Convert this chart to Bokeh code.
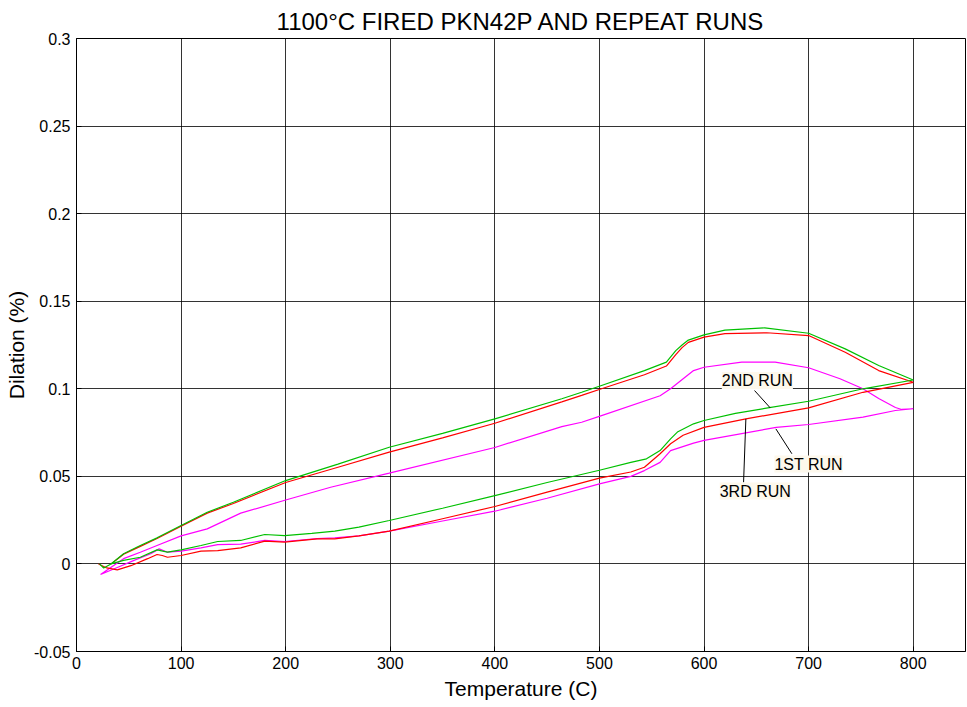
from bokeh.plotting import figure
from bokeh.models import FixedTicker, Label, Range1d, CustomJSTickFormatter
from bokeh.embed import file_html
from bokeh.resources import INLINE

TITLE = "1100°C FIRED PKN42P AND REPEAT RUNS"
X_LABEL = "Temperature (C)"
Y_LABEL = "Dilation (%)"
x_ticks = [0, 100, 200, 300, 400, 500, 600, 700, 800]
y_ticks = [-0.05, 0, 0.05, 0.1, 0.15, 0.2, 0.25, 0.3]

# 1ST RUN (magenta): heating branch then cooling branch
run1_heat_T = [23, 39, 55, 71, 79, 87, 100, 119, 135, 157, 180, 199, 230, 247, 270, 299, 350, 400, 450, 500, 530, 543, 558, 568, 590, 600, 669, 700, 752, 783, 800]
run1_heat_v = [-0.006, -0.002, 0.002, 0.0058, 0.0086, 0.0067, 0.0073, 0.0092, 0.011, 0.0113, 0.0134, 0.0128, 0.0145, 0.0149, 0.016, 0.0187, 0.0245, 0.0301, 0.0375, 0.0457, 0.050, 0.0533, 0.058, 0.0647, 0.069, 0.0705, 0.078, 0.0796, 0.0838, 0.0876, 0.0886]
run1_cool_T = [800, 789, 783, 767, 752, 730, 700, 668, 636, 600, 590, 568, 558, 502, 483, 464, 400, 299, 243, 200, 157, 125, 100, 77, 61, 45, 23]
run1_cool_v = [0.0886, 0.0882, 0.0893, 0.0944, 0.100, 0.1057, 0.112, 0.1152, 0.1152, 0.1123, 0.1104, 0.100, 0.096, 0.0847, 0.0809, 0.0784, 0.0665, 0.0518, 0.0438, 0.0365, 0.029, 0.020, 0.016, 0.0105, 0.0067, 0.003, -0.006]

# 2ND RUN (green)
run2_heat_T = [22, 26, 33, 45, 61, 77, 87, 100, 119, 135, 157, 180, 199, 225, 247, 270, 299, 350, 400, 450, 500, 530, 545, 558, 568, 575, 590, 600, 630, 661, 700, 752, 800]
run2_heat_v = [0.000, -0.0023, 0.000, 0.002, 0.0038, 0.008, 0.0067, 0.008, 0.0105, 0.0128, 0.0134, 0.0168, 0.0162, 0.0175, 0.0187, 0.0210, 0.0248, 0.0318, 0.039, 0.0465, 0.0535, 0.058, 0.060, 0.0647, 0.0714, 0.0755, 0.080, 0.0819, 0.0860, 0.0891, 0.0929, 0.100, 0.105]
run2_cool_T = [800, 767, 735, 700, 658, 620, 600, 585, 579, 573, 564, 543, 502, 483, 464, 400, 350, 299, 250, 200, 150, 125, 100, 77, 61, 45, 33]
run2_cool_v = [0.105, 0.1133, 0.1228, 0.1317, 0.1348, 0.1335, 0.1308, 0.1278, 0.125, 0.1218, 0.1152, 0.1104, 0.1019, 0.098, 0.0943, 0.0828, 0.0745, 0.0666, 0.057, 0.0476, 0.0352, 0.0295, 0.0219, 0.0149, 0.0105, 0.0058, 0.000]

# 3RD RUN (red)
run3_heat_T = [21, 29, 39, 52, 68, 77, 82, 87, 100, 119, 135, 157, 180, 199, 230, 247, 270, 299, 350, 400, 450, 500, 530, 543, 558, 568, 580, 600, 640, 700, 752, 800]
run3_heat_v = [0.000, -0.0023, -0.0034, -0.001, 0.003, 0.0054, 0.0048, 0.0038, 0.0048, 0.0073, 0.0076, 0.0092, 0.013, 0.0124, 0.0143, 0.0143, 0.016, 0.0187, 0.0258, 0.0328, 0.041, 0.049, 0.0525, 0.0552, 0.0629, 0.0686, 0.0735, 0.078, 0.0828, 0.0891, 0.098, 0.1037]
run3_cool_T = [800, 767, 735, 700, 660, 620, 600, 585, 579, 573, 564, 543, 502, 483, 464, 400, 350, 299, 250, 200, 150, 125, 100, 77, 61, 45, 33]
run3_cool_v = [0.1037, 0.1104, 0.1209, 0.1304, 0.132, 0.1315, 0.1295, 0.1265, 0.1235, 0.1195, 0.113, 0.108, 0.100, 0.0962, 0.0925, 0.0803, 0.072, 0.0638, 0.0552, 0.0465, 0.0345, 0.029, 0.0215, 0.0145, 0.010, 0.0055, 0.000]

run_names = ["1ST RUN", "2ND RUN", "3RD RUN"]
run_colors = ["#ff00ff", "#00c000", "#ff0000"]

# annotation label anchors (data units) and leader lines
label_x = [700, 651, 649]
label_y = [0.0570, 0.1047, 0.0416]
leader_x0 = [684, 648.3, 637.8]
leader_y0 = [0.0629, 0.0990, 0.0466]
leader_x1 = [668.7, 663.3, 640]
leader_y1 = [0.0771, 0.0891, 0.0828]

FONT = "Liberation Sans"

p = figure(frame_width=889, frame_height=613,
           x_range=Range1d(0, 850), y_range=Range1d(-0.05, 0.3),
           output_backend="svg", toolbar_location=None,
           min_border_left=76, min_border_right=2, min_border_top=38, min_border_bottom=50,
           background_fill_color="white", border_fill_color="white")

p.title.text = TITLE
p.title.align = "center"
p.title.text_font = FONT
p.title.text_font_size = "24px"
p.title.text_font_style = "normal"
p.title.text_color = "black"
p.title.standoff = 7

p.outline_line_color = "black"
p.outline_line_width = 1
p.outline_line_alpha = 1

for ax in (p.xaxis[0], p.yaxis[0]):
    ax.axis_line_color = "black"
    ax.major_tick_in = 5
    ax.major_tick_out = 0
    ax.major_tick_line_color = "black"
    ax.minor_tick_line_color = None
    ax.major_label_text_font = FONT
    ax.major_label_text_font_size = "16px"
    ax.major_label_text_color = "black"
    ax.axis_label_text_font = FONT
    ax.axis_label_text_font_size = "21px"
    ax.axis_label_text_font_style = "normal"
    ax.axis_label_text_color = "black"

p.xaxis.ticker = FixedTicker(ticks=x_ticks)
p.yaxis.ticker = FixedTicker(ticks=y_ticks)
p.yaxis.formatter = CustomJSTickFormatter(code="""
let s = tick.toFixed(2);
if (s.indexOf('.') >= 0) { s = s.replace(/0+$/, '').replace(/\\.$/, ''); }
if (s === '-0') { s = '0'; }
return s;
""")
p.xaxis.axis_label = X_LABEL
p.yaxis.axis_label = Y_LABEL
p.xaxis.major_label_standoff = 5
p.yaxis.major_label_standoff = 6
p.xaxis.axis_label_standoff = 5
p.yaxis.axis_label_standoff = 3

p.xgrid.ticker = FixedTicker(ticks=x_ticks)
p.ygrid.ticker = FixedTicker(ticks=y_ticks)
for g in (p.xgrid[0], p.ygrid[0]):
    g.grid_line_color = "black"
    g.grid_line_alpha = 0.8
    g.grid_line_width = 1

runs = [
    (run1_heat_T + run1_cool_T, run1_heat_v + run1_cool_v),
    (run3_heat_T + run3_cool_T, run3_heat_v + run3_cool_v),
    (run2_heat_T + run2_cool_T, run2_heat_v + run2_cool_v),
]
colors = [run_colors[0], run_colors[2], run_colors[1]]
for (tx, vy), c in zip(runs, colors):
    p.line(tx, vy, line_color=c, line_width=1.2)

p.segment(x0=leader_x0, y0=leader_y0, x1=leader_x1, y1=leader_y1,
          line_color="black", line_width=1)

for name, lx, ly in zip(run_names, label_x, label_y):
    p.add_layout(Label(x=lx, y=ly, text=name, text_align="center", text_baseline="middle",
                       text_font=FONT, text_font_size="16px", text_color="black",
                       background_fill_color="#fdf8ec", background_fill_alpha=1))

open("out.html", "w").write(file_html(p, INLINE))
